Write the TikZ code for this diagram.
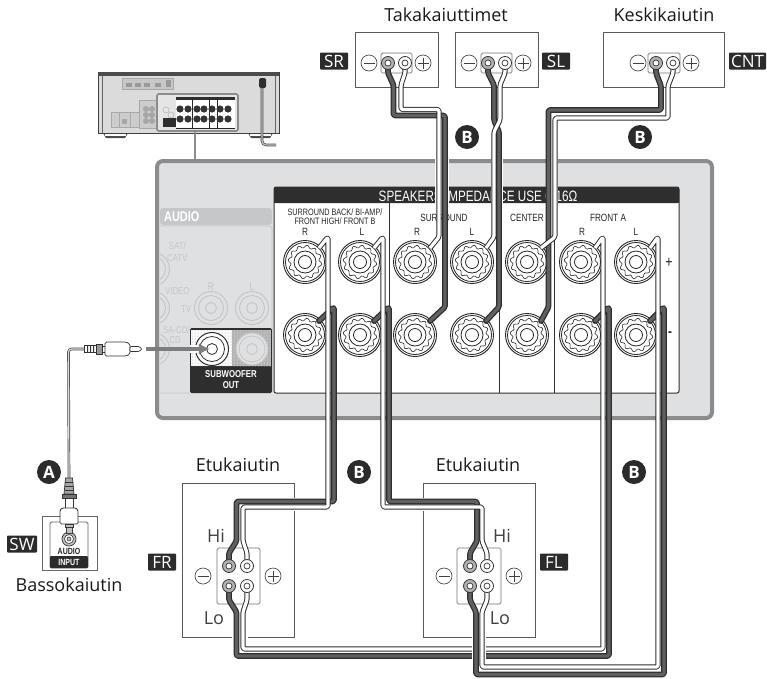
\documentclass[tikz,border=0pt]{standalone}
\usepackage{fontspec}
\setmainfont{Open Sans}
\newfontfamily\cond[FakeStretch=0.78]{Liberation Sans}
\usetikzlibrary{arrows.meta,patterns}
\pgfdeclarelayer{fg}
\pgfsetlayers{main,fg}
\definecolor{wdark}{HTML}{2E2E2E}
\definecolor{wmid}{HTML}{606060}
\definecolor{frame}{HTML}{8A8C8E}
\definecolor{plate}{HTML}{DFE0E2}
\definecolor{audio}{HTML}{C6C7C9}
\definecolor{ghost}{HTML}{C4C5C7}
\definecolor{tag}{HTML}{2B2B2B}
\tikzset{
  darkwire/.style={draw=wdark,double=wmid,line width=1.3pt,double distance=3.2pt,rounded corners=1.5pt,line cap=round,line join=round},
  whitewire/.style={draw=wdark,double=white,line width=1pt,double distance=3.2pt,rounded corners=1.5pt,line join=round},
  spk/.style={draw=black!65,line width=0.8pt,fill=white},
  minibox/.style={draw=black!55,line width=0.7pt,rounded corners=1.5pt,fill=white},
  sign/.style={circle,draw=black!70,line width=0.7pt,fill=white,minimum size=16pt,inner sep=0pt},
  negt/.style={circle,draw=black!80,line width=0.8pt,fill=black!30,minimum size=13pt,inner sep=0pt},
  post/.style={circle,draw=black!80,line width=0.8pt,fill=white,minimum size=13pt,inner sep=0pt},
  inner/.style={circle,draw=black!80,line width=0.7pt,fill=white,minimum size=6pt,inner sep=0pt},
  tagbox/.style={fill=tag,text=white,rounded corners=0.8pt,inner sep=0pt,minimum height=17pt,font=\fontsize{17}{17}\selectfont},
  letter/.style={circle,fill=tag,text=white,minimum size=24pt,inner sep=0pt,font=\bfseries\fontsize{17}{17}\selectfont},
  title/.style={font=\fontsize{18}{19}\selectfont,text=black!90,inner sep=0pt},
  hilo/.style={font=\fontsize{18}{19}\selectfont,text=black!75,inner sep=0pt},
  plab/.style={font=\cond\fontsize{10.5}{11}\selectfont,text=black!85,inner sep=0pt,align=center},
  ghostlab/.style={font=\cond\fontsize{10}{11.5}\selectfont,text=ghost,inner sep=0pt,align=center},
  pics/ampjack/.style={code={
    \draw[black!85,line width=0.9pt,fill=white] (0,0) circle (21.5pt);
    \draw[black!85,line width=0.8pt] (0,0) circle (19.5pt);
    \draw[black!85,line width=0.6pt] plot[domain=0:356,samples=90] ({(15.5+1.4*sin(12*\x))*cos(\x)},{(15.5+1.4*sin(12*\x))*sin(\x)}) -- cycle;
    \draw[black!85,line width=0.8pt] (0,0) circle (11pt) (0,0) circle (6.5pt);
  }},
  pics/ghostjack/.style={code={
    \draw[ghost,line width=0.9pt] (0,0) circle (16.5pt) (0,0) circle (12.5pt) (0,0) circle (5.5pt);
  }},
}
\newcommand{\SpkTerm}[4]{% neg name, pos name, neg xy, pos xy
  \node[negt] (#1) at (#3) {};
  \node[inner] at (#3) {};
  \node[post] (#2) at (#4) {};
  \node[inner] at (#4) {};
}
\begin{document}
\begin{tikzpicture}[x=1pt,y=-1pt]
\useasboundingbox (0,0) rectangle (767,678);

% ---------- receiver thumbnail ----------
\fill[black!70] (103,133) -- (128,133) -- (125,138) -- (106,138) -- cycle;
\fill[black!70] (248,133) -- (273,133) -- (270,138) -- (251,138) -- cycle;
\fill[white] (105,133) rectangle (126,136);
\fill[white] (250,133) rectangle (271,136);
\draw[black!75,line width=1pt,fill=black!14] (98,72) rectangle (279,133);
\fill[black!70] (98,72) rectangle (279,76);
\draw[black!60,line width=0.6pt] (102,76) -- (102,133) (275,76) -- (275,133);
\draw[ghost!85!black,fill=black!22,line width=0.6pt] (122,78) rectangle (173,89);
\foreach \hx in {129,138,147,158}{\fill[black!40] (\hx-3,83) rectangle (\hx+3,87);}
\fill[black!40] (166,80) rectangle (171,87);
\draw[ghost!85!black,fill=black!20,line width=0.6pt] (111,112) rectangle (155,127);
\draw[ghost!85!black,line width=0.6pt] (119,112) -- (119,127) (130,112) -- (130,127);
\draw[ghost!85!black,fill=black!20,line width=0.6pt] (139,100) rectangle (157,128);
\foreach \hy in {109,115,121}{\fill[black!35] (146,\hy) circle (3pt) (152,\hy) circle (3pt);}
\fill[black!35] (122,119) rectangle (127,124);
\draw[frame,line width=1.6pt,fill=black!10,rounded corners=1.5pt] (157,94) rectangle (238,131);
\fill[white] (176,97) rectangle (235,128);
\fill[wdark] (176,97) rectangle (235,100);
\draw[black!85,line width=0.7pt] (192,97) -- (192,128) (209,97) -- (209,128) (217,97) -- (217,128) (176,128) -- (235,128);
\foreach \jx in {180,188,197,204,212,220,228}{
  \fill[black!80] (\jx,109) circle (3.6pt) (\jx,119) circle (3.6pt);
}
\fill[wdark] (163,118) rectangle (176,127);
\draw[black!30,line width=0.5pt] (166,110) circle (3pt) (171,115) circle (3pt);
\draw[black!70,line width=2.6pt,rounded corners=4pt] (262,88) -- (262,145) -- (276,145);
\draw[black!25,line width=1.2pt,rounded corners=4pt] (262,88) -- (262,145) -- (276,145);
\fill[wdark,rounded corners=1.5pt] (259,78) rectangle (266,88);

% ---------- link and main plate ----------
\node[inner sep=0pt,minimum size=0pt] (thumb) at (195,131) {};
\node[inner sep=0pt,minimum size=0pt] (plateedge) at (195,161) {};
\draw[frame,line width=2.8pt] (thumb) -- (plateedge);
\draw[frame,line width=4pt,fill=plate,rounded corners=6pt] (157,161) rectangle (712,418);

% ---------- audio section (ghosted) ----------
\draw[ghost,line width=0.8pt,rounded corners=3pt] (160,226) -- (272,226) -- (272,330) (160,393) -- (190,393);
\fill[audio,rounded corners=3pt] (160,208) rectangle (272,225);
\node[anchor=west,text=white,inner sep=0pt,font=\cond\bfseries\fontsize{14}{14}\selectfont] (audiolabel) at (164,217) {AUDIO};
\begin{scope}
\clip (160,226) rectangle (190,400);
\foreach \gy in {269,308,349}{\pic at (153,\gy) {ghostjack};}
\end{scope}
\pic at (211,308) {ghostjack};
\pic at (252,308) {ghostjack};
\node[ghostlab,anchor=west] (satlab) at (167,252) {SAT/\\CATV};
\node[ghostlab,anchor=west] (videolab) at (165,291) {VIDEO};
\node[ghostlab] (tvlab) at (186,309) {TV};
\node[ghostlab,font=\cond\fontsize{11}{11}\selectfont] (rlab) at (211,287) {R};
\node[ghostlab,font=\cond\fontsize{11}{11}\selectfont] (llab) at (252,287) {L};
\node[ghostlab,anchor=west] (sacdlab) at (163,330) {SA-CD/};
\node[ghostlab] (cdlab) at (175,340) {CD};

% ---------- subwoofer out ----------
\fill[wdark,rounded corners=1.5pt] (190,328) rectangle (272,393);
\fill[white] (191,330) rectangle (232,366);
\fill[black!30] (232,330) rectangle (271,366);
\fill[pattern=dots,pattern color=black!45] (191,330) rectangle (232,366);
\fill[pattern=dots,pattern color=white] (232,330) rectangle (271,366);
\draw[ghost,line width=0.9pt,fill=plate] (252,349) circle (16pt);
\draw[ghost,line width=0.8pt] (252,349) circle (13pt) (252,349) circle (5.5pt);
\draw[wdark,line width=1pt,fill=white] (212,349) circle (16.5pt);
\draw[wdark,line width=0.8pt] (212,349) circle (12.5pt) (212,349) circle (5.5pt);
\node[text=white,inner sep=0pt,align=center,font=\cond\bfseries\fontsize{10}{11}\selectfont] (subout) at (231,379.5) {SUBWOOFER\\OUT};

% ---------- speaker panel ----------
\draw[wdark,line width=1pt,fill=white,rounded corners=2pt] (274,187) rectangle (679,393);
\fill[wdark,rounded corners=2pt] (274,187) rectangle (679,203);
\fill[wdark] (274,197) rectangle (679,203);
\draw[wdark,line width=0.9pt] (389,203) -- (389,393) (499,203) -- (499,393) (554,203) -- (554,393);
\node[inner sep=0pt,text=white,font=\cond\fontsize{15}{15}\selectfont] (panelhead) at (478,196) {SPEAKERS IMPEDANCE USE 6-16Ω};
\node[plab,font=\cond\fontsize{9.3}{9.5}\selectfont] (sblab) at (335,216.5) {SURROUND BACK/ BI-AMP/\\FRONT HIGH/ FRONT B};
\node[plab] (srlab) at (444,218) {SURROUND};
\node[plab] (clab) at (527,218) {CENTER};
\node[plab] (falab) at (608,218) {FRONT A};
\foreach \lx/\lt in {305/R,362/L,417/R,472/L,582/R,636/L}{
  \node[plab] at (\lx,232) {\lt};
}
\node[plab,font=\cond\fontsize{16}{16}\selectfont] (plusl) at (669,263) {+};
\node[plab,font=\cond\bfseries\fontsize{15}{15}\selectfont] (minusl) at (670,334) {-};

\foreach \jx in {305,360,415,472,527,581,636}{
  \pic at (\jx,262) {ampjack};
  \pic at (\jx,335) {ampjack};
}

% gaps cut around the wires
\fill[white] (435,159) rectangle (448.5,204);
\fill[white] (491,159) rectangle (502.5,204);
\fill[white] (545.5,159) rectangle (558,204);

% ---------- speaker boxes ----------
\draw[spk] (355,32) rectangle (438,87);
\draw[spk] (455,32) rectangle (538,87);
\draw[spk] (603,32) rectangle (724,87);
\draw[spk] (182,483) rectangle (294,637);
\draw[spk] (423,483) rectangle (535,637);
\draw[minibox] (381,53) rectangle (412,73);
\draw[minibox] (481,53) rectangle (512,73);
\draw[minibox] (648,53) rectangle (680,73);
\draw[minibox] (217,548) rectangle (260,604);
\draw[minibox] (457,548) rectangle (501,604);
\fill[white] (292,498) rectangle (296,511);
\fill[white] (421,498) rectangle (425,511);
\fill[white] (232,635) rectangle (248,639);
\fill[white] (472,635) rectangle (486,639);

% sign symbols
\foreach \sx/\sy/\sk in {369/63/0,469/63/0,638/63/0,203/576/0,444/576/0,423/63/1,523/63/1,691/63/1,273/576/1,514/576/1}{
  \node[sign] at (\sx,\sy) {};
  \draw[black!75,line width=1pt] (\sx-5.5,\sy) -- (\sx+5.5,\sy);
  \ifnum\sk=1 \draw[black!75,line width=1pt] (\sx,\sy-5.5) -- (\sx,\sy+5.5);\fi
}

% ---------- terminals on top of the wires ----------
\begin{pgfonlayer}{fg}
\SpkTerm{srneg}{srpos}{388,63}{405,63}
\SpkTerm{slneg}{slpos}{488,63}{505,63}
\SpkTerm{cneg}{cpos}{656,63}{673,63}
\SpkTerm{frhn}{frhp}{229,566}{247,566}
\SpkTerm{frln}{frlp}{229,586}{247,586}
\SpkTerm{flhn}{flhp}{470,566}{487,566}
\SpkTerm{flln}{fllp}{470,586}{487,586}
\end{pgfonlayer}

\coordinate (aSRp) at (430,248); \coordinate (aSRn) at (430,321);
\coordinate (aSLp) at (486,248); \coordinate (aSLn) at (486,321);
\coordinate (aCp) at (541,248);  \coordinate (aCn) at (541,321);
\coordinate (aBRp) at (319,248); \coordinate (aBRn) at (319,321);
\coordinate (aBLp) at (374,248); \coordinate (aBLn) at (374,321);
\coordinate (aFRp) at (595,248); \coordinate (aFRn) at (595,321);
\coordinate (aFLp) at (650,248); \coordinate (aFLn) at (650,321);

% ---------- wires: dark ones ----------
\draw[darkwire] (srneg.center) -- (388,73) -- (393.5,85) -- (393.5,115.5) -- (445,115.5) -- (445,307) -- (aSRn);
\draw[darkwire] (slneg.center) -- (488,73) -- (494,85) -- (494,120) -- (499,132) -- (499,307) -- (aSLn);
\draw[darkwire] (cneg.center) -- (656,73) -- (661,86) -- (661,110) -- (548.5,110) -- (548.5,307) -- (aCn);
\draw[darkwire] (frhn.center) -- (229,553) -- (236.5,541) -- (236.5,501.5) -- (334,501.5) -- (334,307) -- (aBRn);
\draw[darkwire] (flhn.center) -- (470,553) -- (477,541) -- (477,501.5) -- (389,501.5) -- (389,307) -- (aBLn);
\draw[darkwire] (frln.center) -- (229,600) -- (236.5,612) -- (236.5,656) -- (609,656) -- (609,307) -- (aFRn);
% ---------- wires: white ones ----------
\draw[whitewire] (srpos.center) -- (405,73) -- (401,85) -- (401,109.5) -- (439,109.5) -- (439,237) -- (aSRp);
\draw[whitewire] (slpos.center) -- (505,73) -- (500,85) -- (500,120) -- (494,132) -- (494,237) -- (aSLp);
\draw[whitewire] (cpos.center) -- (673,73) -- (668,86) -- (668,118) -- (555,118) -- (555,237) -- (aCp);
\draw[whitewire] (frhp.center) -- (247,553) -- (243,541) -- (243,507) -- (328,507) -- (328,237) -- (aBRp);
\draw[whitewire] (flhp.center) -- (487,553) -- (482,541) -- (482,507) -- (383,507) -- (383,237) -- (aBLp);
\draw[whitewire] (frlp.center) -- (247,600) -- (243,612) -- (243,649) -- (603,649) -- (603,237) -- (aFRp);
% the FL low pair runs over the FR low pair
\fill[white] (472,645) rectangle (486,660);
\draw[darkwire] (flln.center) -- (470,600) -- (476,612) -- (476,674.5) -- (664,674.5) -- (664,307) -- (aFLn);
\draw[whitewire] (fllp.center) -- (487,600) -- (482,612) -- (482,667) -- (658,667) -- (658,237) -- (aFLp);

% ---------- arrow and subwoofer cable ----------
\node[inner sep=0pt,minimum size=0pt] (arrfrom) at (146,349) {};
\node[inner sep=0pt,minimum size=0pt] (arrto) at (210,349) {};
\fill[white] (190,345) rectangle (200,353);
\draw[frame!90!black,line width=3.6pt,-{Latex[length=11pt,width=12pt]}] (arrfrom) -- (arrto);

\coordinate (plugh) at (84,349);
\coordinate (plugv) at (69,478);
\draw[black!75,line width=2.6pt,rounded corners=3pt] (plugh) -- (68.5,349) -- (plugv);
\draw[black!12,line width=1.2pt,rounded corners=3pt] (plugh) -- (68.5,349) -- (plugv);
% horizontal RCA plug
\draw[black!80,line width=0.7pt,fill=white] (84,345.5) rectangle (96,352.5);
\fill[black!80] (87,345.5) rectangle (88,352.5) (90,345.5) rectangle (91,352.5) (93,345.5) rectangle (94,352.5);
\draw[black!80,line width=0.7pt,fill=black!40] (96,344) rectangle (102,354);
\draw[black!80,line width=0.7pt,fill=white] (102,346) rectangle (105,352);
\draw[black!80,line width=0.7pt,fill=white,rounded corners=1.5pt] (105,342) -- (126,342) -- (130,344) -- (130,354) -- (126,356) -- (105,356) -- cycle;
\draw[black!80,line width=0.7pt,fill=white,rounded corners=1pt] (130,346.5) -- (139,346.5) -- (142,349) -- (139,351.5) -- (130,351.5) -- cycle;
% speaker at lower left
\draw[spk,draw=black!60] (42,516) rectangle (97,570);
\draw[minibox,draw=black!60,line width=0.8pt] (50,522) rectangle (88,568);
\fill[tag,rounded corners=1pt] (50,556) rectangle (88,568);
\draw[black!80,line width=0.7pt,fill=black!25] (69,539) circle (7pt);
\draw[black!80,line width=0.6pt,fill=white] (69,539) circle (4.5pt) ;
\draw[black!80,line width=0.6pt,fill=black!25] (69,539) circle (2pt);
\draw[black!75,line width=0.7pt,fill=black!25] (66,524) rectangle (72,533);
% vertical RCA plug
\draw[black!80,line width=0.7pt,fill=black!35] (65.5,478) -- (72.5,478) -- (74,494) -- (64,494) -- cycle;
\draw[black!80,line width=0.6pt] (65,482) -- (73,482) (65,486) -- (73,486) (64.5,490) -- (73.5,490);
\draw[black!80,line width=0.7pt,fill=black!55] (62,494) rectangle (76,498);
\draw[black!80,line width=0.7pt,fill=white] (65,498) rectangle (73,508);
\draw[black!80,line width=0.7pt,fill=white,rounded corners=1.5pt] (62,508) -- (76,508) -- (78,510) -- (78,524) -- (60,524) -- (60,510) -- cycle;
\draw[black!80,line width=0.6pt,fill=black!25] (65,524) rectangle (73,527);
\node[text=black!85,inner sep=0pt,font=\cond\bfseries\fontsize{9}{9}\selectfont] (audiosw) at (69,551) {AUDIO};
\node[text=white,inner sep=0pt,font=\cond\bfseries\fontsize{9}{9}\selectfont] (inputsw) at (69,562) {INPUT};

% ---------- labels ----------
\node[title] (t1) at (446,15) {Takakaiuttimet};
\node[title] (t2) at (664,15) {Keskikaiutin};
\node[title] (t3) at (238,465) {Etukaiutin};
\node[title] (t4) at (478,465) {Etukaiutin};
\node[title] (t5) at (69,585) {Bassokaiutin};
\node[hilo] (h1) at (216,536) {Hi};
\node[hilo] (l1) at (214,618) {Lo};
\node[hilo] (h2) at (502,536) {Hi};
\node[hilo] (l2) at (500,618) {Lo};

\node[tagbox,minimum width=28pt] (tSR) at (334,61) {SR};
\node[tagbox,minimum width=28pt] (tSL) at (556,61) {SL};
\node[tagbox,minimum width=37pt] (tCNT) at (747.5,61) {CNT};
\node[tagbox,minimum width=30pt] (tSW) at (22,544) {SW};
\node[tagbox,minimum width=28pt] (tFR) at (162,562) {FR};
\node[tagbox,minimum width=28pt] (tFL) at (554,562) {FL};

\node[letter] (bA) at (49,472) {A};
\node[letter] (b1) at (467,137) {B};
\node[letter] (b2) at (640,137) {B};
\node[letter] (b3) at (359,472) {B};
\node[letter] (b4) at (634,472) {B};
\end{tikzpicture}
\end{document}
